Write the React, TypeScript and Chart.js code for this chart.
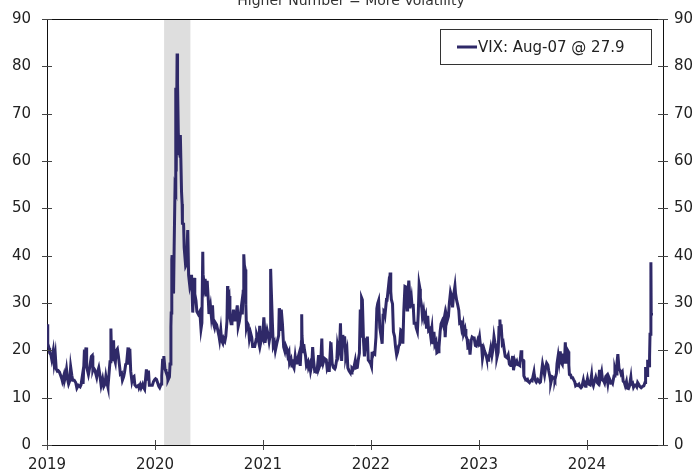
import React, { useEffect, useRef } from "react";
import { Chart, registerables } from "chart.js";

Chart.register(...registerables);

const titleText = "Higher Number = More Volatility";
const legendLabel = "VIX: Aug-07 @ 27.9";
const yearTicks = [2019, 2020, 2021, 2022, 2023, 2024];
const recessionStart = "2020-02-01";
const recessionEnd = "2020-04-30";
const axisEnd = "2024-09-15";

const vix2019: [string, number][] = [
  ["2019-01-02", 23.2], ["2019-01-03", 25.5], ["2019-01-04", 21.4], ["2019-01-08", 20.5], ["2019-01-10", 19.5],
  ["2019-01-14", 19.1], ["2019-01-17", 18.1], ["2019-01-22", 19.9], ["2019-01-25", 17.4], ["2019-01-29", 19.1],
  ["2019-02-01", 16.1], ["2019-02-05", 15.6], ["2019-02-08", 15.7], ["2019-02-12", 15.4], ["2019-02-15", 14.9],
  ["2019-02-20", 14.0], ["2019-02-22", 13.5], ["2019-02-27", 14.7], ["2019-03-01", 13.6], ["2019-03-05", 14.7],
  ["2019-03-08", 16.0], ["2019-03-12", 13.8], ["2019-03-15", 12.9], ["2019-03-19", 13.6], ["2019-03-22", 16.5],
  ["2019-03-26", 14.7], ["2019-03-29", 13.7], ["2019-04-03", 13.7], ["2019-04-08", 13.2], ["2019-04-12", 12.0],
  ["2019-04-17", 12.6], ["2019-04-23", 12.3], ["2019-04-26", 12.7], ["2019-05-01", 14.8], ["2019-05-03", 12.9],
  ["2019-05-07", 19.3], ["2019-05-09", 19.1], ["2019-05-13", 20.6], ["2019-05-15", 16.4], ["2019-05-17", 15.96],
  ["2019-05-21", 14.9], ["2019-05-24", 15.9], ["2019-05-29", 17.9], ["2019-05-31", 18.7], ["2019-06-03", 18.9],
  ["2019-06-05", 15.9], ["2019-06-07", 16.3], ["2019-06-11", 15.9], ["2019-06-14", 15.3], ["2019-06-18", 14.3],
  ["2019-06-21", 15.4], ["2019-06-25", 16.3], ["2019-06-28", 15.1], ["2019-07-03", 12.6], ["2019-07-08", 13.96],
  ["2019-07-12", 12.4], ["2019-07-16", 12.9], ["2019-07-19", 14.5], ["2019-07-23", 13.0], ["2019-07-26", 12.2],
  ["2019-07-31", 16.1], ["2019-08-02", 17.6], ["2019-08-05", 24.6], ["2019-08-07", 19.5], ["2019-08-09", 18.0],
  ["2019-08-12", 21.1], ["2019-08-14", 22.1], ["2019-08-16", 18.5], ["2019-08-20", 17.5], ["2019-08-23", 19.9],
  ["2019-08-27", 20.3], ["2019-08-30", 18.98], ["2019-09-04", 16.3], ["2019-09-06", 15.0], ["2019-09-10", 15.2],
  ["2019-09-13", 13.7], ["2019-09-17", 14.4], ["2019-09-20", 15.3], ["2019-09-24", 17.05], ["2019-09-27", 17.2],
  ["2019-10-02", 20.6], ["2019-10-04", 17.0], ["2019-10-08", 20.3], ["2019-10-11", 15.6], ["2019-10-15", 13.5],
  ["2019-10-18", 14.3], ["2019-10-22", 14.5], ["2019-10-25", 12.7], ["2019-10-30", 12.3], ["2019-11-01", 12.3],
  ["2019-11-06", 12.6], ["2019-11-08", 12.1], ["2019-11-12", 12.7], ["2019-11-15", 12.05], ["2019-11-20", 12.8],
  ["2019-11-22", 12.3], ["2019-11-27", 11.75], ["2019-12-03", 16.0], ["2019-12-06", 13.6], ["2019-12-10", 15.7],
  ["2019-12-13", 12.6], ["2019-12-18", 12.6], ["2019-12-23", 12.6], ["2019-12-27", 13.4], ["2019-12-31", 13.8],
];

const vix2020: [string, number][] = [
  ["2020-01-03", 14.0], ["2020-01-06", 13.85], ["2020-01-08", 13.5], ["2020-01-14", 12.4], ["2020-01-17", 12.1],
  ["2020-01-22", 12.9], ["2020-01-24", 14.6], ["2020-01-27", 18.2], ["2020-01-29", 16.4], ["2020-01-31", 18.8],
  ["2020-02-04", 16.05], ["2020-02-07", 15.5], ["2020-02-11", 15.2], ["2020-02-14", 13.7], ["2020-02-19", 14.4],
  ["2020-02-21", 17.1], ["2020-02-24", 25.0], ["2020-02-25", 27.9], ["2020-02-27", 39.2], ["2020-02-28", 40.1],
  ["2020-03-02", 33.4], ["2020-03-04", 31.99], ["2020-03-06", 41.9], ["2020-03-09", 54.5], ["2020-03-11", 53.9],
  ["2020-03-12", 75.5], ["2020-03-13", 57.8], ["2020-03-16", 82.7], ["2020-03-17", 75.9], ["2020-03-18", 76.5],
  ["2020-03-20", 66.0], ["2020-03-23", 61.6], ["2020-03-24", 61.7], ["2020-03-26", 61.0], ["2020-03-27", 65.5],
  ["2020-03-31", 53.5], ["2020-04-02", 50.9], ["2020-04-03", 46.8], ["2020-04-07", 46.7], ["2020-04-09", 41.7],
  ["2020-04-14", 37.8], ["2020-04-17", 38.2], ["2020-04-21", 45.4], ["2020-04-24", 35.9], ["2020-04-28", 33.6],
  ["2020-04-30", 34.2], ["2020-05-04", 35.97], ["2020-05-08", 27.98], ["2020-05-13", 35.3], ["2020-05-15", 31.9],
  ["2020-05-19", 30.5], ["2020-05-22", 28.2], ["2020-05-27", 27.6], ["2020-06-01", 28.2], ["2020-06-05", 24.5],
  ["2020-06-08", 25.8], ["2020-06-11", 40.8], ["2020-06-12", 36.1], ["2020-06-16", 33.7], ["2020-06-19", 35.1],
  ["2020-06-23", 31.4], ["2020-06-26", 34.7], ["2020-06-30", 30.4], ["2020-07-02", 27.7], ["2020-07-07", 29.4],
  ["2020-07-10", 27.3], ["2020-07-14", 29.5], ["2020-07-17", 25.7], ["2020-07-21", 24.8], ["2020-07-24", 25.8],
  ["2020-07-28", 25.4], ["2020-07-31", 24.5], ["2020-08-05", 23.0], ["2020-08-07", 22.2], ["2020-08-11", 24.3],
  ["2020-08-14", 22.05], ["2020-08-18", 21.5], ["2020-08-21", 22.5], ["2020-08-25", 22.0], ["2020-08-28", 22.96],
  ["2020-09-01", 26.1], ["2020-09-03", 33.6], ["2020-09-04", 30.8], ["2020-09-08", 31.5], ["2020-09-11", 26.9],
  ["2020-09-15", 25.6], ["2020-09-18", 25.8], ["2020-09-23", 28.6], ["2020-09-25", 26.4], ["2020-09-30", 26.4],
  ["2020-10-02", 27.6], ["2020-10-06", 29.5], ["2020-10-09", 25.0], ["2020-10-13", 26.1], ["2020-10-16", 27.4],
  ["2020-10-20", 29.35], ["2020-10-23", 27.6], ["2020-10-26", 32.5], ["2020-10-28", 40.3], ["2020-10-30", 38.0],
  ["2020-11-02", 37.1], ["2020-11-04", 29.6], ["2020-11-06", 24.9], ["2020-11-09", 25.75], ["2020-11-12", 25.4],
  ["2020-11-16", 22.45], ["2020-11-20", 23.7], ["2020-11-24", 22.7], ["2020-11-27", 20.8], ["2020-12-01", 20.8],
  ["2020-12-04", 20.8], ["2020-12-09", 22.3], ["2020-12-11", 23.3], ["2020-12-15", 22.5], ["2020-12-18", 21.6],
  ["2020-12-21", 25.2], ["2020-12-24", 21.5], ["2020-12-29", 23.1], ["2020-12-31", 22.75],
];

const vix2021: [string, number][] = [
  ["2021-01-04", 26.97], ["2021-01-06", 25.1], ["2021-01-08", 21.6], ["2021-01-12", 23.3], ["2021-01-15", 24.3],
  ["2021-01-19", 23.2], ["2021-01-22", 21.9], ["2021-01-25", 23.0], ["2021-01-27", 37.2], ["2021-01-29", 33.1],
  ["2021-02-02", 25.6], ["2021-02-05", 20.9], ["2021-02-09", 21.6], ["2021-02-12", 19.97], ["2021-02-17", 21.5],
  ["2021-02-19", 22.05], ["2021-02-23", 23.1], ["2021-02-25", 28.9], ["2021-02-26", 27.95], ["2021-03-02", 24.1],
  ["2021-03-04", 28.6], ["2021-03-08", 25.5], ["2021-03-12", 20.7], ["2021-03-16", 19.8], ["2021-03-19", 20.95],
  ["2021-03-23", 20.3], ["2021-03-26", 18.9], ["2021-03-30", 19.6], ["2021-04-01", 17.3], ["2021-04-06", 18.1],
  ["2021-04-09", 16.7], ["2021-04-13", 16.7], ["2021-04-16", 16.25], ["2021-04-20", 18.7], ["2021-04-23", 17.3],
  ["2021-04-28", 17.3], ["2021-04-30", 18.6], ["2021-05-04", 19.5], ["2021-05-07", 16.7], ["2021-05-11", 21.8],
  ["2021-05-12", 27.6], ["2021-05-13", 23.1], ["2021-05-17", 19.7], ["2021-05-19", 21.3], ["2021-05-21", 20.2],
  ["2021-05-25", 18.8], ["2021-05-28", 16.8], ["2021-06-02", 17.5], ["2021-06-04", 16.4], ["2021-06-08", 17.1],
  ["2021-06-11", 15.65], ["2021-06-15", 16.9], ["2021-06-18", 20.7], ["2021-06-21", 17.9], ["2021-06-25", 15.6],
  ["2021-06-30", 15.8], ["2021-07-02", 15.1], ["2021-07-08", 19.0], ["2021-07-09", 16.2], ["2021-07-13", 16.9],
  ["2021-07-16", 18.45], ["2021-07-19", 22.5], ["2021-07-21", 17.9], ["2021-07-23", 17.2], ["2021-07-28", 18.3],
  ["2021-07-30", 18.2], ["2021-08-03", 18.0], ["2021-08-06", 16.15], ["2021-08-10", 16.8], ["2021-08-13", 15.45],
  ["2021-08-18", 21.6], ["2021-08-19", 21.7], ["2021-08-23", 17.2], ["2021-08-27", 16.4], ["2021-09-01", 16.1],
  ["2021-09-03", 16.4], ["2021-09-08", 18.3], ["2021-09-10", 20.95], ["2021-09-14", 19.5], ["2021-09-17", 20.8],
  ["2021-09-20", 25.7], ["2021-09-22", 20.9], ["2021-09-24", 17.75], ["2021-09-28", 23.25], ["2021-10-01", 21.15],
  ["2021-10-04", 22.96], ["2021-10-06", 21.0], ["2021-10-08", 18.8], ["2021-10-12", 20.0], ["2021-10-15", 16.3],
  ["2021-10-19", 15.7], ["2021-10-22", 15.4], ["2021-10-26", 15.2], ["2021-10-29", 16.26], ["2021-11-02", 16.0],
  ["2021-11-05", 16.5], ["2021-11-09", 17.8], ["2021-11-12", 16.3], ["2021-11-16", 16.4], ["2021-11-19", 17.9],
  ["2021-11-23", 19.4], ["2021-11-26", 28.6], ["2021-11-29", 22.96], ["2021-11-30", 27.2], ["2021-12-01", 31.1],
  ["2021-12-03", 30.7], ["2021-12-07", 21.9], ["2021-12-10", 18.7], ["2021-12-14", 21.9], ["2021-12-17", 21.6],
  ["2021-12-20", 22.9], ["2021-12-23", 17.96], ["2021-12-28", 17.5], ["2021-12-31", 17.2],
];

const vix2022: [string, number][] = [
  ["2022-01-03", 16.6], ["2022-01-05", 19.7], ["2022-01-07", 18.8], ["2022-01-10", 19.4], ["2022-01-14", 19.2],
  ["2022-01-18", 22.8], ["2022-01-21", 28.85], ["2022-01-24", 29.9], ["2022-01-27", 30.5], ["2022-01-31", 24.8],
  ["2022-02-04", 23.2], ["2022-02-08", 21.4], ["2022-02-11", 27.4], ["2022-02-14", 28.3], ["2022-02-17", 28.1],
  ["2022-02-18", 27.75], ["2022-02-23", 31.0], ["2022-02-24", 30.3], ["2022-03-01", 33.3], ["2022-03-04", 32.0],
  ["2022-03-07", 36.45], ["2022-03-09", 32.45], ["2022-03-11", 30.75], ["2022-03-15", 29.8], ["2022-03-18", 23.9],
  ["2022-03-22", 22.9], ["2022-03-25", 20.8], ["2022-03-29", 19.0], ["2022-04-01", 19.6], ["2022-04-05", 21.0],
  ["2022-04-08", 21.2], ["2022-04-12", 24.3], ["2022-04-14", 24.2], ["2022-04-19", 21.4], ["2022-04-22", 28.2],
  ["2022-04-26", 33.5], ["2022-04-29", 33.4], ["2022-05-03", 28.5], ["2022-05-05", 31.2], ["2022-05-09", 34.75],
  ["2022-05-12", 31.8], ["2022-05-13", 28.9], ["2022-05-18", 30.96], ["2022-05-20", 29.4], ["2022-05-24", 29.45],
  ["2022-05-27", 25.7], ["2022-06-01", 25.7], ["2022-06-03", 24.8], ["2022-06-07", 24.0], ["2022-06-10", 27.75],
  ["2022-06-13", 34.0], ["2022-06-16", 32.95], ["2022-06-17", 31.1], ["2022-06-22", 28.95], ["2022-06-24", 27.2],
  ["2022-06-28", 28.4], ["2022-07-01", 26.7], ["2022-07-05", 27.5], ["2022-07-08", 24.6], ["2022-07-12", 27.3],
  ["2022-07-15", 24.2], ["2022-07-19", 24.5], ["2022-07-22", 23.0], ["2022-07-26", 24.7], ["2022-07-29", 21.3],
  ["2022-08-02", 23.9], ["2022-08-05", 21.2], ["2022-08-09", 21.8], ["2022-08-12", 19.5], ["2022-08-16", 19.7],
  ["2022-08-19", 20.6], ["2022-08-23", 24.0], ["2022-08-26", 25.6], ["2022-08-30", 26.2], ["2022-09-02", 25.5],
  ["2022-09-06", 26.9], ["2022-09-09", 22.8], ["2022-09-13", 27.3], ["2022-09-16", 26.3], ["2022-09-20", 27.2],
  ["2022-09-23", 29.9], ["2022-09-27", 32.3], ["2022-09-30", 31.6], ["2022-10-04", 29.1], ["2022-10-07", 31.4],
  ["2022-10-12", 33.6], ["2022-10-14", 32.0], ["2022-10-18", 30.5], ["2022-10-21", 29.7], ["2022-10-25", 28.5],
  ["2022-10-28", 25.75], ["2022-11-01", 25.9], ["2022-11-04", 24.55], ["2022-11-08", 25.5], ["2022-11-10", 23.5],
  ["2022-11-15", 24.5], ["2022-11-18", 23.1], ["2022-11-22", 22.4], ["2022-11-25", 20.5], ["2022-11-30", 20.6],
  ["2022-12-02", 19.1], ["2022-12-06", 22.1], ["2022-12-09", 22.8], ["2022-12-13", 22.6], ["2022-12-16", 22.6],
  ["2022-12-20", 21.0], ["2022-12-23", 20.9], ["2022-12-28", 22.1], ["2022-12-30", 21.7],
];

const vix2023: [string, number][] = [
  ["2023-01-03", 22.9], ["2023-01-06", 21.1], ["2023-01-10", 21.1], ["2023-01-13", 18.35], ["2023-01-18", 20.3],
  ["2023-01-20", 19.85], ["2023-01-25", 19.1], ["2023-01-27", 18.5], ["2023-02-01", 17.9], ["2023-02-03", 18.3],
  ["2023-02-07", 19.4], ["2023-02-10", 20.5], ["2023-02-14", 18.9], ["2023-02-17", 20.0], ["2023-02-21", 22.9],
  ["2023-02-24", 21.7], ["2023-02-28", 20.7], ["2023-03-03", 18.5], ["2023-03-07", 19.6], ["2023-03-10", 24.8],
  ["2023-03-13", 26.5], ["2023-03-15", 23.7], ["2023-03-17", 25.5], ["2023-03-21", 21.4], ["2023-03-24", 21.7],
  ["2023-03-28", 19.9], ["2023-03-31", 18.7], ["2023-04-06", 18.4], ["2023-04-10", 19.0], ["2023-04-14", 17.1],
  ["2023-04-18", 16.8], ["2023-04-21", 16.8], ["2023-04-25", 18.8], ["2023-04-28", 15.8], ["2023-05-02", 17.8],
  ["2023-05-05", 17.2], ["2023-05-09", 17.7], ["2023-05-12", 17.0], ["2023-05-17", 16.9], ["2023-05-19", 16.8],
  ["2023-05-24", 20.0], ["2023-05-26", 18.0], ["2023-05-31", 17.9], ["2023-06-02", 14.6], ["2023-06-07", 13.9],
  ["2023-06-09", 13.8], ["2023-06-14", 13.9], ["2023-06-16", 13.5], ["2023-06-21", 13.2], ["2023-06-23", 13.4],
  ["2023-06-27", 13.7], ["2023-06-30", 13.6], ["2023-07-06", 15.4], ["2023-07-07", 14.8], ["2023-07-12", 13.5],
  ["2023-07-14", 13.3], ["2023-07-19", 13.8], ["2023-07-21", 13.6], ["2023-07-26", 13.2], ["2023-07-28", 13.3],
  ["2023-08-02", 16.1], ["2023-08-04", 17.1], ["2023-08-08", 15.8], ["2023-08-11", 14.8], ["2023-08-15", 16.5],
  ["2023-08-18", 17.3], ["2023-08-22", 16.9], ["2023-08-25", 15.7], ["2023-08-30", 14.1], ["2023-09-01", 13.1],
  ["2023-09-06", 14.45], ["2023-09-08", 14.4], ["2023-09-12", 14.2], ["2023-09-15", 13.8], ["2023-09-20", 15.1],
  ["2023-09-22", 17.2], ["2023-09-26", 18.9], ["2023-09-29", 17.5], ["2023-10-03", 19.8], ["2023-10-06", 17.45],
  ["2023-10-10", 17.0], ["2023-10-13", 19.3], ["2023-10-17", 17.2], ["2023-10-20", 21.7], ["2023-10-24", 17.2],
  ["2023-10-26", 20.2], ["2023-10-30", 19.75], ["2023-11-01", 16.9], ["2023-11-03", 14.9], ["2023-11-07", 14.8],
  ["2023-11-10", 14.2], ["2023-11-14", 14.2], ["2023-11-17", 13.8], ["2023-11-21", 13.35], ["2023-11-24", 12.5],
  ["2023-11-28", 12.7], ["2023-12-01", 12.6], ["2023-12-05", 12.85], ["2023-12-08", 12.35], ["2023-12-12", 12.1],
  ["2023-12-15", 12.3], ["2023-12-20", 13.7], ["2023-12-22", 13.0], ["2023-12-27", 12.4], ["2023-12-29", 12.45],
];

const vix2024: [string, number][] = [
  ["2024-01-03", 14.0], ["2024-01-05", 13.35], ["2024-01-09", 12.8], ["2024-01-12", 12.7], ["2024-01-17", 14.8],
  ["2024-01-19", 13.3], ["2024-01-23", 12.55], ["2024-01-26", 13.3], ["2024-01-31", 14.35], ["2024-02-02", 13.85],
  ["2024-02-06", 13.1], ["2024-02-09", 12.9], ["2024-02-13", 15.85], ["2024-02-16", 14.2], ["2024-02-20", 15.4],
  ["2024-02-23", 13.75], ["2024-02-28", 13.4], ["2024-03-01", 13.1], ["2024-03-05", 14.5], ["2024-03-08", 14.7],
  ["2024-03-12", 13.0], ["2024-03-15", 14.4], ["2024-03-19", 13.8], ["2024-03-22", 13.1], ["2024-03-26", 13.2],
  ["2024-03-28", 13.0], ["2024-04-02", 14.6], ["2024-04-05", 16.0], ["2024-04-09", 14.98], ["2024-04-12", 17.3],
  ["2024-04-15", 19.2], ["2024-04-16", 18.4], ["2024-04-19", 16.1], ["2024-04-23", 15.7], ["2024-04-26", 15.0],
  ["2024-04-30", 15.4], ["2024-05-03", 13.5], ["2024-05-07", 13.2], ["2024-05-10", 12.55], ["2024-05-14", 13.4],
  ["2024-05-17", 11.99], ["2024-05-21", 11.9], ["2024-05-24", 12.4], ["2024-05-29", 14.3], ["2024-05-31", 12.9],
  ["2024-06-04", 13.1], ["2024-06-07", 12.2], ["2024-06-11", 12.7], ["2024-06-14", 12.7], ["2024-06-18", 12.3],
  ["2024-06-21", 13.2], ["2024-06-25", 12.8], ["2024-06-28", 12.4], ["2024-07-03", 12.1], ["2024-07-08", 12.4],
  ["2024-07-12", 12.5], ["2024-07-16", 13.2], ["2024-07-17", 14.0], ["2024-07-19", 16.5], ["2024-07-23", 14.7],
  ["2024-07-24", 18.0], ["2024-07-26", 16.4], ["2024-07-30", 17.7], ["2024-07-31", 16.4], ["2024-08-01", 18.6],
  ["2024-08-02", 23.4], ["2024-08-05", 38.6], ["2024-08-06", 27.7], ["2024-08-07", 27.9],
];

function toYear(s: string): number {
  const [y, m, d] = s.split("-").map(Number);
  const t = Date.UTC(y, m - 1, d);
  const s0 = Date.UTC(y, 0, 1);
  const s1 = Date.UTC(y + 1, 0, 1);
  return y + (t - s0) / (s1 - s0);
}

const LINE_COLOR = "#2f2968";
const FONT = "'DejaVu Sans', Verdana, sans-serif";
const TEXT_COLOR = "#222222";

export default function App() {
  const ref = useRef<HTMLCanvasElement | null>(null);

  useEffect(() => {
    document.body.style.margin = "0";
    const canvas = ref.current;
    if (!canvas) return;
    const all = [...vix2019, ...vix2020, ...vix2021, ...vix2022, ...vix2023, ...vix2024];
    const points = all.map(([d, v]) => ({ x: toYear(d), y: v }));

    const decor = {
      id: "decor",
      beforeDatasetsDraw(chart: any) {
        const { ctx, chartArea, scales } = chart;
        const x0 = scales.x.getPixelForValue(toYear(recessionStart));
        const x1 = scales.x.getPixelForValue(toYear(recessionEnd));
        ctx.save();
        ctx.fillStyle = "#dedede";
        ctx.fillRect(x0, chartArea.top + 1, x1 - x0, chartArea.bottom - chartArea.top - 1);
        ctx.restore();
      },
      afterDraw(chart: any) {
        const { ctx, chartArea, scales } = chart;
        const { left, right, top, bottom } = chartArea;
        ctx.save();
        ctx.strokeStyle = "#111";
        ctx.lineWidth = 1;
        ctx.beginPath();
        ctx.moveTo(left, Math.round(top) + 0.5);
        ctx.lineTo(right, Math.round(top) + 0.5);
        ctx.stroke();
        ctx.strokeStyle = "#444";
        ctx.beginPath();
        scales.y.ticks.forEach((t: any) => {
          const y = Math.round(scales.y.getPixelForValue(t.value)) + 0.5;
          ctx.moveTo(left - 5, y);
          ctx.lineTo(left + 5, y);
          ctx.moveTo(right - 5, y);
          ctx.lineTo(right + 5, y);
        });
        scales.x.ticks.forEach((t: any) => {
          const x = Math.round(scales.x.getPixelForValue(t.value)) + 0.5;
          ctx.moveTo(x, bottom - 5);
          ctx.lineTo(x, bottom + 5);
        });
        ctx.stroke();
        ctx.fillStyle = "#333";
        ctx.font = `14px ${FONT}`;
        ctx.textAlign = "center";
        ctx.textBaseline = "alphabetic";
        ctx.fillText(titleText, (left + right) / 2 - 4, 5);
        const bx = 440.5, by = 29.5, bw = 211, bh = 35;
        ctx.fillStyle = "#ffffff";
        ctx.fillRect(bx, by, bw, bh);
        ctx.strokeStyle = "#333";
        ctx.lineWidth = 1;
        ctx.strokeRect(bx, by, bw, bh);
        const ly = by + bh / 2;
        ctx.strokeStyle = LINE_COLOR;
        ctx.lineWidth = 3;
        ctx.beginPath();
        ctx.moveTo(457, ly);
        ctx.lineTo(477, ly);
        ctx.stroke();
        ctx.fillStyle = TEXT_COLOR;
        ctx.font = `15px ${FONT}`;
        ctx.textAlign = "left";
        ctx.textBaseline = "middle";
        ctx.fillText(legendLabel, 478, ly + 1);
        ctx.restore();
      },
    };

    const chart = new Chart(canvas, {
      type: "line",
      data: {
        datasets: [
          {
            label: legendLabel,
            data: points,
            borderColor: LINE_COLOR,
            backgroundColor: LINE_COLOR,
            borderWidth: 3,
            pointRadius: 0,
            tension: 0,
            yAxisID: "y",
          },
        ],
      },
      options: {
        animation: false,
        responsive: false,
        layout: { padding: { top: 0, left: 0, right: 0, bottom: 0 } },
        plugins: {
          legend: { display: false },
          title: { display: false },
          tooltip: { enabled: false },
        },
        scales: {
          x: {
            type: "linear",
            min: 2019,
            max: toYear(axisEnd),
            afterBuildTicks: (scale: any) => {
              scale.ticks = yearTicks.map((v) => ({ value: v }));
            },
            afterFit: (scale: any) => {
              scale.height = 27;
            },
            grid: { display: false, drawTicks: false },
            border: { display: true, color: "#111", width: 1 },
            ticks: {
              padding: 11,
              color: TEXT_COLOR,
              font: { family: FONT, size: 15 },
              maxRotation: 0,
              autoSkip: false,
              callback: (v: any) => String(v),
            },
          },
          y: {
            position: "left",
            min: 0,
            max: 90,
            afterFit: (scale: any) => {
              scale.width = 47;
              scale.paddingTop = 19;
            },
            grid: { display: false, drawTicks: false },
            border: { display: true, color: "#111", width: 1 },
            ticks: {
              stepSize: 10,
              padding: 16,
              color: TEXT_COLOR,
              font: { family: FONT, size: 15 },
            },
          },
          y2: {
            position: "right",
            min: 0,
            max: 90,
            afterFit: (scale: any) => {
              scale.width = 31;
              scale.paddingTop = 19;
            },
            grid: { display: false, drawTicks: false },
            border: { display: true, color: "#111", width: 1 },
            ticks: {
              stepSize: 10,
              padding: 11,
              color: TEXT_COLOR,
              font: { family: FONT, size: 15 },
            },
          },
        },
      },
      plugins: [decor],
    });
    return () => chart.destroy();
  }, []);

  return (
    <div style={{ width: 694, height: 472, position: "relative" }}>
      <canvas ref={ref} width={694} height={472} style={{ display: "block", width: 694, height: 472 }} />
    </div>
  );
}
